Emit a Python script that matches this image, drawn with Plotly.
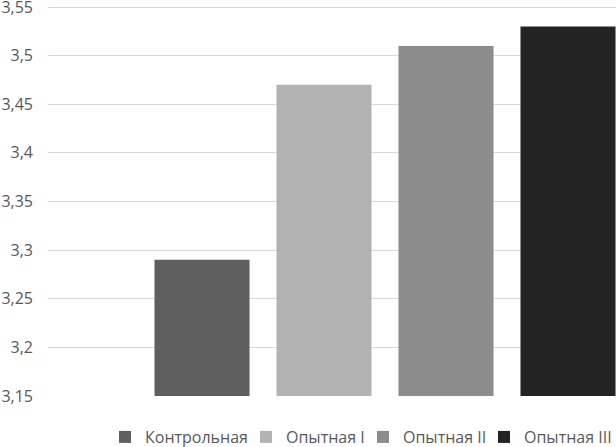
import plotly.graph_objects as go

series_names = ["Контрольная", "Опытная I", "Опытная II", "Опытная III"]
series_values = [3.29, 3.47, 3.51, 3.53]
series_colors = ["#5f5f5f", "#b3b3b3", "#8c8c8c", "#232323"]
category = [""]
y_ticks = [3.15, 3.2, 3.25, 3.3, 3.35, 3.4, 3.45, 3.5, 3.55]
legend_left_px = [105, 246, 363, 484]

W, H = 616, 447
fig = go.Figure()
legend_ids = ["legend", "legend2", "legend3", "legend4"]
for name, val, col, lid in zip(series_names, series_values, series_colors, legend_ids):
    fig.add_trace(go.Bar(x=category, y=[val], name=name, legend=lid,
                         marker=dict(color=col, line=dict(width=0))))

layout_legends = {}
for lid, lx in zip(legend_ids, legend_left_px):
    layout_legends[lid] = dict(orientation="h", xref="container", yref="container",
                               x=lx / W, xanchor="left", y=1 - 437 / H, yanchor="middle",
                               font=dict(size=16, color="#595959"), itemwidth=30,
                               bgcolor="rgba(0,0,0,0)", borderwidth=0)

fig.update_layout(
    width=W, height=H,
    margin=dict(l=48, r=0, t=4, b=51, autoexpand=False),
    paper_bgcolor="white", plot_bgcolor="white",
    barmode="group", bargap=0.276, bargroupgap=0.221,
    separators=", ",
    font=dict(family="Open Sans, Noto Sans, sans-serif", size=16, color="#595959"),
    showlegend=True,
    xaxis=dict(type="category", range=[-0.5, 0.3427], showticklabels=False, automargin=False,
               showgrid=False, zeroline=False, showline=False),
    yaxis=dict(range=[3.1499, 3.5531], tickvals=y_ticks, showgrid=True, gridcolor="#d9d9d9",
               gridwidth=1, zeroline=False, showline=False, ticklabelstandoff=14, automargin=False,
               ticklabeloverflow="allow", tickfont=dict(size=16, color="#595959")),
    **layout_legends,
)
fig.write_html("out.html", config={"displayModeBar": False},
               post_script="document.body.style.margin='0';document.body.style.overflow='hidden';")
